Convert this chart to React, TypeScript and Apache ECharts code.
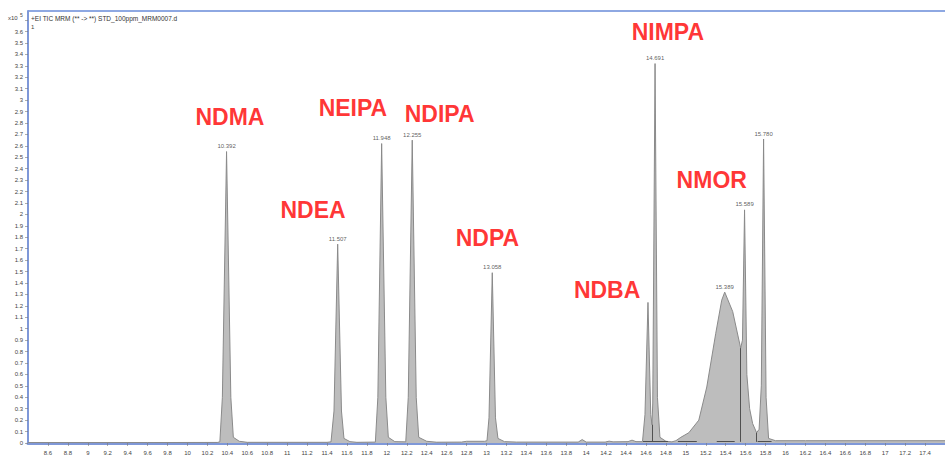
import React, { useEffect, useRef } from 'react';
import * as echarts from 'echarts';

// Chromatogram trace (retention time, min) and response (x10^5)
const traceX = [
  8.4, 9.6, 10.3, 10.325, 10.35, 10.392, 10.435, 10.46, 10.52, 10.6,
  11.4, 11.44, 11.47, 11.507, 11.545, 11.57, 11.63, 11.7,
  11.885, 11.91, 11.948, 11.99, 12.015, 12.08,
  12.19, 12.215, 12.255, 12.295, 12.32, 12.4, 12.5,
  12.75, 12.8, 12.98, 13.005, 13.025, 13.058, 13.09, 13.115, 13.18, 13.3,
  13.92, 13.96, 14.0, 14.19, 14.23, 14.27, 14.42, 14.46, 14.5,
  14.565, 14.59, 14.62, 14.648, 14.66, 14.668, 14.691, 14.715, 14.74, 14.8,
  14.86, 14.9, 14.95, 15.03, 15.13, 15.21, 15.3, 15.36, 15.39, 15.47, 15.55,
  15.568, 15.589, 15.612, 15.64, 15.67, 15.71,
  15.735, 15.757, 15.78, 15.805, 15.83, 15.9, 16.2, 17.6,
];
const traceY = [
  0.004, 0.004, 0.005, 0.01, 0.4, 2.55, 0.4, 0.05, 0.015, 0.006,
  0.006, 0.01, 0.28, 1.74, 0.28, 0.04, 0.012, 0.006,
  0.008, 0.4, 2.62, 0.4, 0.05, 0.012,
  0.01, 0.4, 2.65, 0.4, 0.05, 0.015, 0.007,
  0.008, 0.015, 0.015, 0.02, 0.22, 1.49, 0.22, 0.04, 0.012, 0.008,
  0.008, 0.03, 0.008, 0.008, 0.016, 0.01, 0.012, 0.025, 0.012,
  0.012, 0.25, 1.23, 0.25, 0.16, 0.35, 3.32, 0.4, 0.05, 0.015,
  0.01, 0.02, 0.05, 0.09, 0.2, 0.49, 0.96, 1.25, 1.32, 1.15, 0.83,
  0.9, 2.04, 0.6, 0.3, 0.17, 0.09,
  0.12, 0.5, 2.66, 0.4, 0.04, 0.02, 0.02, 0.02,
];

// Retention-time labels above the peaks
const peakTimes = [10.392, 11.507, 11.948, 12.255, 13.058, 14.691, 15.389, 15.589, 15.78];
const peakHeights = [2.55, 1.74, 2.62, 2.65, 1.49, 3.32, 1.32, 2.04, 2.66];
const peakLabels = ['10.392', '11.507', '11.948', '12.255', '13.058', '14.691', '15.389', '15.589', '15.780'];

// Compound name annotations (data coordinates of the text centre)
const compoundNames = ['NDMA', 'NDEA', 'NEIPA', 'NDIPA', 'NDPA', 'NDBA', 'NIMPA', 'NMOR'];
const compoundX = [10.426, 11.26, 11.66, 12.53, 13.01, 14.21, 14.82, 15.26];
const compoundY = [2.85, 2.04, 2.93, 2.88, 1.79, 1.34, 3.6, 2.3];

// Integration drop lines and baselines
const dropX = [14.66, 15.55, 15.71];
const dropTop = [0.16, 0.83, 0.09];
const baseStart = [14.57, 14.92, 15.31, 15.72];
const baseEnd = [14.82, 15.11, 15.49, 15.86];

const xTicks = { min: 8.4, max: 17.6, step: 0.2 };
const yTicks = { min: 0, max: 3.78, step: 0.1, lastLabel: 3.6 };

const BLUE = '#7f98d8';
const fmt = (v: number) => String(Math.round(v * 10) / 10);

export default function App() {
  const ref = useRef<HTMLDivElement>(null);
  useEffect(() => {
    document.body.style.margin = '0';
    const chart = echarts.init(ref.current!, null, { renderer: 'svg' });
    const trace = traceX.map((x, i) => [x, traceY[i]]);
    const markData: any[] = [];
    dropX.forEach((x, i) => markData.push([{ coord: [x, 0.01] }, { coord: [x, dropTop[i]] }]));
    baseStart.forEach((x, i) => markData.push([{ coord: [x, 0.012] }, { coord: [baseEnd[i], 0.012] }]));
    chart.setOption({
      animation: false,
      textStyle: { fontFamily: 'Liberation Sans, Arial, sans-serif' },
      grid: { left: 28, right: 0, top: 11, bottom: 16, containLabel: false },
      xAxis: {
        type: 'value',
        min: xTicks.min,
        max: xTicks.max,
        interval: xTicks.step,
        offset: 3,
        axisLine: { lineStyle: { color: BLUE, width: 3 } },
        axisTick: { length: 3, lineStyle: { color: '#777', width: 0.6 } },
        axisLabel: {
          fontSize: 6,
          color: '#444',
          margin: 4,
          showMinLabel: false,
          showMaxLabel: false,
          formatter: fmt,
        },
        splitLine: { show: false },
      },
      yAxis: {
        type: 'value',
        min: yTicks.min,
        max: yTicks.max,
        interval: yTicks.step,
        axisLine: { show: true, lineStyle: { color: BLUE, width: 2 } },
        axisTick: { show: true, length: 3, lineStyle: { color: '#777', width: 0.6 } },
        axisLabel: {
          fontSize: 6,
          color: '#444',
          margin: 5,
          showMaxLabel: false,
          formatter: (v: number) => (v > yTicks.lastLabel + 0.05 ? '' : fmt(v)),
        },
        splitLine: { show: false },
      },
      graphic: [
        { type: 'line', shape: { x1: 28, y1: 11, x2: 945, y2: 11 }, style: { stroke: '#8ea8e2', lineWidth: 2 } },
        { type: 'text', x: 8, y: 15, style: { text: 'x10', fontSize: 6, fill: '#444', fontFamily: 'Liberation Sans' } },
        { type: 'text', x: 20, y: 12, style: { text: '5', fontSize: 5, fill: '#444', fontFamily: 'Liberation Sans' } },
        {
          type: 'text', x: 31, y: 15,
          style: { text: '+EI TIC MRM (** -> **) STD_100ppm_MRM0007.d', fontSize: 6.5, fill: '#333', fontFamily: 'Liberation Sans' },
        },
        { type: 'text', x: 31, y: 24, style: { text: '1', fontSize: 6, fill: '#444', fontFamily: 'Liberation Sans' } },
      ],
      series: [
        {
          type: 'line',
          data: trace,
          symbol: 'none',
          lineStyle: { color: '#8a8a8a', width: 1 },
          areaStyle: { color: '#bdbdbd', opacity: 1 },
          markLine: {
            silent: true,
            symbol: ['none', 'none'],
            label: { show: false },
            lineStyle: { color: '#505050', width: 1, type: 'solid' },
            data: markData,
          },
          z: 2,
        },
        {
          type: 'scatter',
          data: peakTimes.map((t, i) => [t, peakHeights[i], peakLabels[i]]),
          symbolSize: 1,
          itemStyle: { color: 'transparent' },
          label: {
            show: true,
            position: 'top',
            distance: 2,
            fontSize: 6,
            color: '#333',
            formatter: (p: any) => p.data[2],
          },
          z: 3,
        },
        {
          type: 'scatter',
          data: compoundNames.map((n, i) => [compoundX[i], compoundY[i], n]),
          symbolSize: 1,
          itemStyle: { color: 'transparent' },
          label: {
            show: true,
            position: 'inside',
            fontSize: 23,
            fontWeight: 'bold',
            color: '#ff0000',
            fontFamily: 'Liberation Sans, Arial, sans-serif',
            formatter: (p: any) => p.data[2],
          },
          z: 4,
        },
      ],
    });
    return () => chart.dispose();
  }, []);
  return <div ref={ref} style={{ width: 945, height: 459 }} />;
}
